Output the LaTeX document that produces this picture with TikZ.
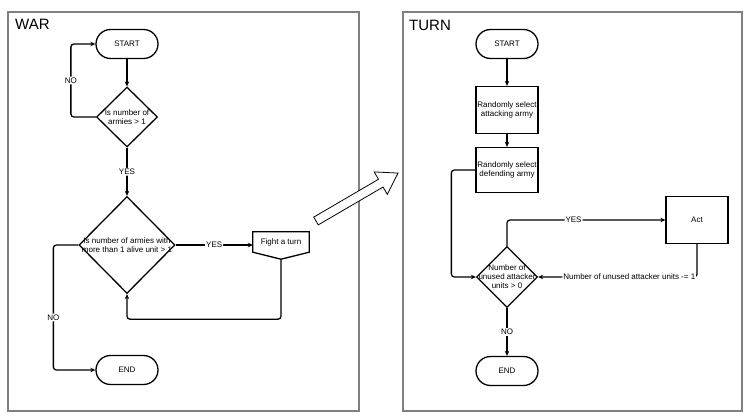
\documentclass[tikz,border=0pt]{standalone}
\usepackage{fontspec}
\setmainfont{Liberation Sans}
\usetikzlibrary{shapes.geometric,shapes.misc,arrows.meta,calc}
\begin{document}
\begin{tikzpicture}[x=1pt,y=-1pt,
  every node/.style={font=\fontsize{8}{9}\selectfont},
  frame/.style={draw=black!50,line width=1.2pt},
  title/.style={font=\fontsize{15}{18}\selectfont,anchor=base west,inner sep=0},
  term/.style={draw,rounded rectangle,line width=1.3pt,minimum width=62pt,minimum height=29pt,inner sep=0},
  dia/.style={draw,diamond,line width=1.3pt,inner sep=0},
  dtext/.style={align=center,inner sep=0},
  box/.style={draw,rectangle,line width=1.3pt,minimum width=62pt,align=center,inner sep=0},
  conn/.style={line width=1.3pt,rounded corners=3pt,-{Stealth[length=5pt,width=4.5pt]}},
  lbl/.style={fill=white,inner sep=1pt},
]
\useasboundingbox (0,0) rectangle (750,420);
\fill[white] (0,0) rectangle (750,420);

% frames
\draw[frame] (8,12) rectangle (359,411);
\draw[frame] (403,12) rectangle (742,411);
\node[title] (wart) at (15,29.5) {WAR};
\node[title] (turnt) at (409,30.5) {TURN};

% WAR chart
\node[term] (s1) at (127,44) {START};
\node[dia,minimum width=61pt,minimum height=60pt,
  label={[dtext]center:{Is number of\\armies > 1}}] (d1) at (127,117) {};
\node[dia,minimum width=96pt,minimum height=97pt,
  label={[dtext]center:{Is number of armies with\\more than 1 alive unit > 1}}] (d2) at (127,245) {};
\node[minimum width=56pt,minimum height=20pt,inner sep=0,text depth=-2pt] (fight) at (281,242) {Fight a turn};
\coordinate (fightpt) at ($(fight.south)+(0,7)$);
\draw[line width=1.3pt,line join=miter] (fight.north west) -- (fight.north east) -- (fight.south east)
  -- (fightpt) -- (fight.south west) -- cycle;
\node[term] (e1) at (127,370) {END};

\draw[conn] (s1.south) -- (d1.north);
\draw[conn] (d1.west) -- ++(-25,0) |- node[lbl,pos=0.25]{NO} (s1.west);
\draw[conn] (d1.south) -- node[lbl]{YES} (d2.north);
\draw[conn] (d2.east) -- node[lbl]{YES} (d2.east -| fight.west);
\draw[conn] (fightpt) -- ++(0,60) -| (d2.south);
\draw[conn] (d2.west) -- ++(-25,0) |- node[lbl,pos=0.29]{NO} (e1.west);

% TURN chart
\node[term] (s2) at (507,44) {START};
\node[box,minimum height=47pt] (b1) at (507,110) {Randomly select\\attacking army};
\node[box,minimum height=45pt] (b2) at (507,170) {Randomly select\\defending army};
\node[dia,minimum width=61pt,minimum height=61pt,
  label={[dtext]center:{Number of\\unused attacker\\units > 0}}] (d3) at (507,277) {};
\node[box,minimum height=47pt] (act) at (697,220) {Act};
\node[term] (e2) at (507,371) {END};

\draw[conn] (s2.south) -- (b1.north);
\draw[conn] (b1.south) -- (b2.north);
\draw[conn] (b2.west) -- ++(-24,0) |- (d3.west);
\draw[conn] (d3.north) |- node[lbl,pos=0.71]{YES} (act.west);
\draw[conn] (act.south) |- node[lbl,pos=0.713]{Number of unused attacker units -= 1} (d3.east);
\draw[conn] (d3.south) -- node[lbl]{NO} (e2.north);

% big block arrow
\begin{scope}[shift={(316,221)},rotate=30.3]
\draw[line width=0.8pt,fill=white,line join=miter]
  (0,-4.5) -- (75,-4.5) -- (75,-13) -- (95,0) -- (75,13) -- (75,4.5) -- (0,4.5) -- cycle;
\end{scope}
\end{tikzpicture}
\end{document}
